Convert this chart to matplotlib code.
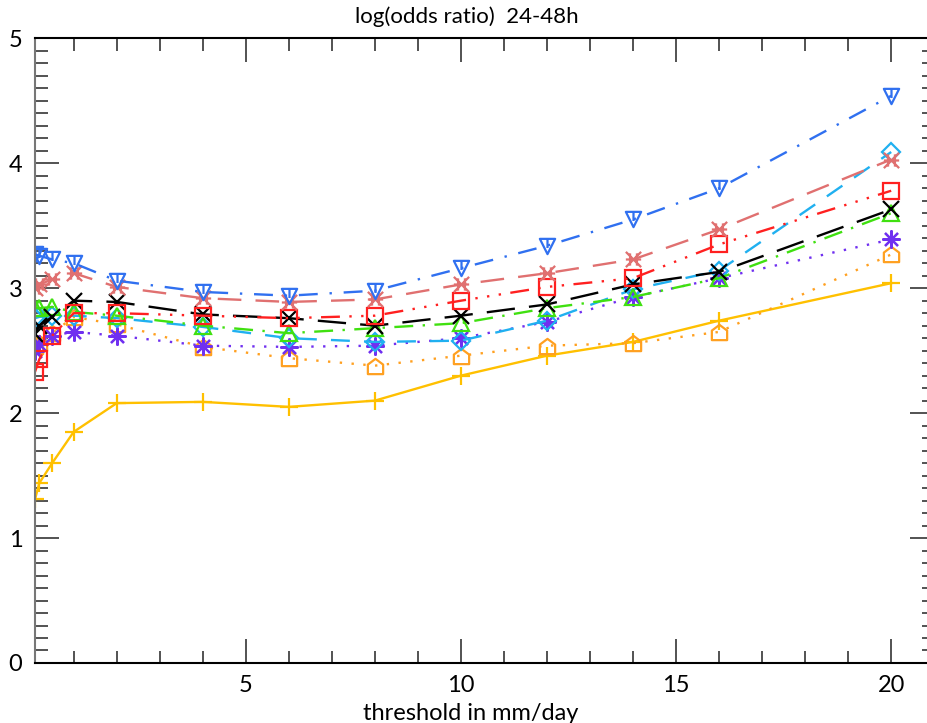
import numpy as np
import matplotlib.pyplot as plt
from matplotlib.path import Path
from matplotlib.ticker import MultipleLocator, FixedLocator

# umbrales en mm/dia
umbral = [0.1, 0.2, 0.5, 1, 2, 4, 6, 8, 10, 12, 14, 16, 20]

# log(odds ratio) de cada serie
serie_amarilla = [1.31, 1.44, 1.60, 1.85, 2.08, 2.09, 2.05, 2.10, 2.30, 2.46, 2.57, 2.74, 3.04]
serie_naranja = [2.54, 2.56, 2.64, 2.77, 2.71, 2.53, 2.44, 2.38, 2.46, 2.54, 2.56, 2.65, 3.27]
serie_morada = [2.50, 2.55, 2.62, 2.65, 2.62, 2.54, 2.53, 2.54, 2.60, 2.73, 2.93, 3.08, 3.39]
serie_cian = [2.76, 2.77, 2.78, 2.78, 2.76, 2.69, 2.60, 2.57, 2.58, 2.74, 2.99, 3.14, 4.09]
serie_verde = [2.84, 2.84, 2.85, 2.81, 2.78, 2.70, 2.64, 2.68, 2.72, 2.84, 2.93, 3.08, 3.60]
serie_negra = [2.63, 2.70, 2.77, 2.90, 2.89, 2.79, 2.76, 2.70, 2.78, 2.87, 3.03, 3.13, 3.63]
serie_roja = [2.33, 2.43, 2.62, 2.80, 2.80, 2.78, 2.76, 2.78, 2.90, 3.01, 3.08, 3.35, 3.78]
serie_salmon = [3.00, 3.03, 3.07, 3.12, 3.01, 2.92, 2.89, 2.91, 3.03, 3.12, 3.23, 3.47, 4.03]
serie_azul = [3.27, 3.26, 3.23, 3.20, 3.06, 2.97, 2.94, 2.98, 3.16, 3.34, 3.55, 3.80, 4.54]

plt.rcParams['font.family'] = ['Lato', 'DejaVu Sans']

# simbolos propios
casa = Path([(-1, -1), (1, -1), (1, 0.25), (0, 1), (-1, 0.25), (-1, -1)],
            [Path.MOVETO] + [Path.LINETO] * 4 + [Path.CLOSEPOLY])
nabla = Path([(-1, 1), (1, 1), (0, -1), (-1, 1), (0, 1), (0, -0.2)],
             [Path.MOVETO, Path.LINETO, Path.LINETO, Path.CLOSEPOLY,
              Path.MOVETO, Path.LINETO])
rejilla = Path([(-1, -1), (1, 1), (-1, 1), (1, -1), (-1, 0), (1, 0),
                (-0.45, -0.8), (-0.45, 0.8), (0.45, -0.8), (0.45, 0.8)],
               [Path.MOVETO, Path.LINETO] * 5)

fig = plt.figure(figsize=(9.28, 7.23), dpi=100)
ax = fig.add_axes([0.0377, 0.083, 0.969, 0.864])

ms = 11
mew = 1.6
lw = 1.7
ax.plot(umbral, serie_amarilla, '-', color='#FFC000', lw=lw, marker='+', ms=ms + 2, mew=mew)
ax.plot(umbral, serie_naranja, color='#FFA020', lw=lw, ls=(0, (1, 4)), marker=casa,
        ms=ms, mew=mew, mfc='none')
ax.plot(umbral, serie_morada, color='#7030F0', lw=lw, ls=(0, (1, 4)), marker=(8, 2, 0),
        ms=ms + 2, mew=mew)
ax.plot(umbral, serie_cian, color='#20B0F0', lw=lw, ls=(0, (8, 6)), marker='D',
        ms=ms - 2, mew=mew, mfc='none')
ax.plot(umbral, serie_verde, color='#40E010', lw=lw, ls=(0, (8, 4, 1, 4)), marker='^',
        ms=ms, mew=mew, mfc='none')
ax.plot(umbral, serie_negra, color='black', lw=lw, ls=(0, (12, 6)), marker='x',
        ms=ms + 1, mew=mew)
ax.plot(umbral, serie_roja, color='#FF2020', lw=lw, ls=(0, (8, 4, 1, 4, 1, 4, 1, 4)),
        marker='s', ms=ms, mew=mew, mfc='none')
ax.plot(umbral, serie_salmon, color='#E07070', lw=lw, ls=(0, (10, 6)), marker=rejilla,
        ms=ms, mew=mew)
ax.plot(umbral, serie_azul, color='#3070F0', lw=lw, ls=(0, (8, 5, 1, 5)), marker=nabla,
        ms=ms, mew=mew, mfc='none')

ax.set_xlim(0.1, 21)
ax.set_ylim(0, 5)

# ejes al estilo IDL: marcas hacia dentro en los cuatro lados
ax.xaxis.set_major_locator(FixedLocator([5, 10, 15, 20]))
ax.xaxis.set_minor_locator(MultipleLocator(1))
ax.yaxis.set_major_locator(MultipleLocator(1))
ax.yaxis.set_minor_locator(MultipleLocator(0.1))
ax.tick_params(which='both', direction='in', top=True, right=True, color='#444444',
               width=1.3, labelsize=17)
ax.tick_params(which='major', length=17, pad=9)
ax.tick_params(which='minor', length=9)
for s in ax.spines.values():
    s.set_linewidth(1.5)
ax.spines['left'].set_color('#777777')
ax.spines['right'].set_color('#777777')

ax.set_xlabel('threshold in mm/day', fontsize=17)
ax.xaxis.set_label_coords(0.484, -0.064)
ax.set_title('log(odds ratio)  24-48h', fontsize=16, pad=11, x=0.48)

fig.savefig('out.png', dpi=100)
